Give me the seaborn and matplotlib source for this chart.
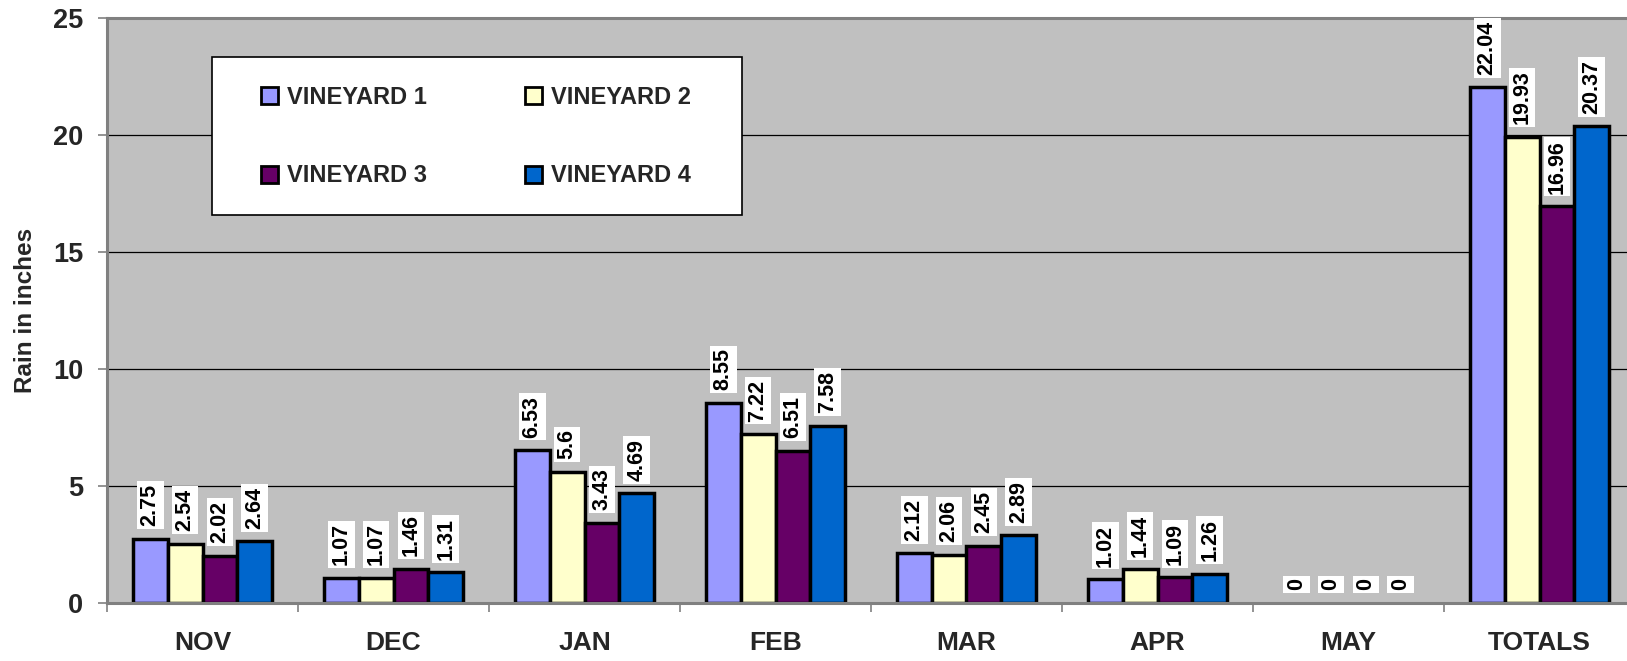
import matplotlib
matplotlib.use("Agg")
import matplotlib.pyplot as plt
from matplotlib.patches import Patch, Rectangle
import seaborn as sns
import pandas as pd

months = ["NOV", "DEC", "JAN", "FEB", "MAR", "APR", "MAY", "TOTALS"]
vineyards = ["VINEYARD 1", "VINEYARD 2", "VINEYARD 3", "VINEYARD 4"]
v1 = [2.75, 1.07, 6.53, 8.55, 2.12, 1.02, 0, 22.04]
v2 = [2.54, 1.07, 5.60, 7.22, 2.06, 1.44, 0, 19.93]
v3 = [2.02, 1.46, 3.43, 6.51, 2.45, 1.09, 0, 16.96]
v4 = [2.64, 1.31, 4.69, 7.58, 2.89, 1.26, 0, 20.37]
colors = ["#9999FF", "#FFFFCC", "#660066", "#0066CC"]

rows = []
for name, vals in zip(vineyards, [v1, v2, v3, v4]):
    for m, v in zip(months, vals):
        rows.append({"month": m, "vineyard": name, "rain": v})
df = pd.DataFrame(rows)

sns.set_style("white")
plt.rcParams["font.family"] = ["Liberation Sans", "DejaVu Sans"]
plt.rcParams["font.weight"] = "bold"

W, H = 1627, 661
fig = plt.figure(figsize=(W / 100, H / 100), dpi=100)
fig.patch.set_facecolor("white")
ax = fig.add_axes([107 / W, 58 / H, 1528 / W, 585 / H])
ax.set_facecolor("#C0C0C0")

sns.barplot(data=df, x="month", y="rain", hue="vineyard", order=months,
            hue_order=vineyards, palette=dict(zip(vineyards, colors)),
            saturation=1, edgecolor="black", linewidth=2.5, width=0.73,
            errorbar=None, legend=False, ax=ax, zorder=2)

for p in ax.patches:
    if p.get_height() == 0:
        p.set_linewidth(0)

for c in ax.containers:
    ax.bar_label(c, fmt="%g", padding=9, rotation=90, fontsize=15.5,
                 fontweight="bold", color="black",
                 bbox=dict(boxstyle="square,pad=0.13", fc="white", ec="none"))

ax.set_xlim(-0.5, 7.5)
ax.set_ylim(0, 25)
ax.set_yticks([0, 5, 10, 15, 20, 25])
ax.yaxis.grid(True, color="black", linewidth=0.9)
ax.set_axisbelow(True)

ax.set_xticks(range(len(months)))
ax.set_xticklabels(months)
ax.set_xticks([i + 0.5 for i in range(-1, len(months))], minor=True)
ax.tick_params(axis="x", which="major", length=0, pad=20.5, labelsize=19)
ax.tick_params(axis="x", which="minor", length=6.5, width=1.2, color="#808080",
               bottom=True)
ax.tick_params(axis="y", length=6.5, width=1.2, color="#808080", pad=10.5,
               labelsize=19.5, left=True)
for lab in ax.get_xticklabels() + ax.get_yticklabels():
    lab.set_fontweight("bold")

ax.set_xlabel("")
ax.set_ylabel("Rain in inches", fontsize=17.5, fontweight="bold")
ax.yaxis.set_label_coords(-0.046, 0.5)

for s in ["left", "top", "bottom"]:
    ax.spines[s].set_visible(True)
    ax.spines[s].set_color("#808080")
    ax.spines[s].set_linewidth(2.2)
ax.spines["right"].set_visible(False)

# legend box
rect = Rectangle((212 / W, 1 - 215 / H), (742 - 212) / W, (215 - 57) / H,
                 transform=fig.transFigure, facecolor="white",
                 edgecolor="black", linewidth=1.2, zorder=3)
fig.add_artist(rect)
handles = [Patch(facecolor=c, edgecolor="black", linewidth=2) for c in colors]
# row-major order (matplotlib fills legend columns first)
order = [0, 2, 1, 3]
fig.legend([handles[i] for i in order], [vineyards[i] for i in order],
           ncol=2, loc="upper left",
           bbox_to_anchor=(261 / W, 1 - 86 / H), frameon=False,
           borderpad=0, borderaxespad=0,
           prop={"weight": "bold", "size": 17},
           handlelength=0.72, handleheight=0.72, handletextpad=0.38,
           labelspacing=2.35, columnspacing=4.15)

fig.savefig("out.png", dpi=100)
